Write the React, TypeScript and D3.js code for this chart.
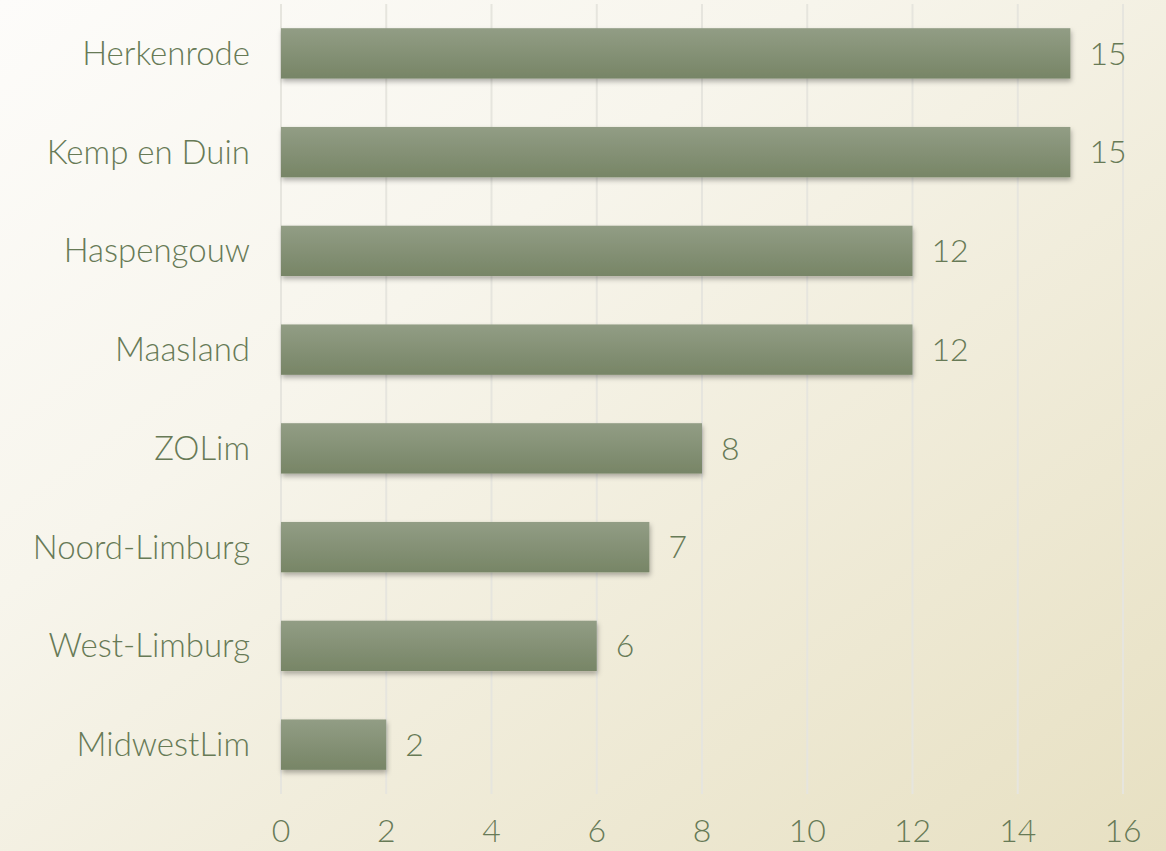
import React, { useEffect, useRef } from "react";
import * as d3 from "d3";

const categories = [
  "Herkenrode",
  "Kemp en Duin",
  "Haspengouw",
  "Maasland",
  "ZOLim",
  "Noord-Limburg",
  "West-Limburg",
  "MidwestLim",
];
const values = [15, 15, 12, 12, 8, 7, 6, 2];
const xTicks = [0, 2, 4, 6, 8, 10, 12, 14, 16];

const width = 1166;
const height = 851;

export default function App() {
  const chartRef = useRef<SVGSVGElement>(null);

  useEffect(() => {
    document.body.style.margin = "0";
    const svg = d3.select(chartRef.current);
    const textColor = "#677a56";
    const font = "Lato, 'Open Sans', sans-serif";

    const defs = svg.append("defs");
    const bg = defs
      .append("linearGradient")
      .attr("id", "bg")
      .attr("x1", "0%")
      .attr("y1", "0%")
      .attr("x2", "100%")
      .attr("y2", "100%");
    bg.append("stop").attr("offset", "0%").attr("stop-color", "#fdfcfa");
    bg.append("stop").attr("offset", "35%").attr("stop-color", "#f7f5ec");
    bg.append("stop").attr("offset", "100%").attr("stop-color", "#e7e0c2");

    const barGrad = defs
      .append("linearGradient")
      .attr("id", "bar")
      .attr("x1", "0")
      .attr("y1", "0")
      .attr("x2", "0")
      .attr("y2", "1");
    barGrad.append("stop").attr("offset", "0%").attr("stop-color", "#929d85");
    barGrad.append("stop").attr("offset", "100%").attr("stop-color", "#778566");

    defs
      .append("filter")
      .attr("id", "shadow")
      .attr("x", "-5%")
      .attr("y", "-20%")
      .attr("width", "110%")
      .attr("height", "150%")
      .append("feDropShadow")
      .attr("dx", 1)
      .attr("dy", 3)
      .attr("stdDeviation", 2.5)
      .attr("flood-color", "#000")
      .attr("flood-opacity", 0.3);

    svg
      .append("rect")
      .attr("width", width)
      .attr("height", height)
      .attr("fill", "url(#bg)");

    const x = d3.scaleLinear().domain([0, 16]).range([281, 1123]);
    const y = d3
      .scaleBand()
      .domain(categories)
      .range([4, 794])
      .paddingInner(0.49)
      .paddingOuter(0.245);

    // grid
    svg
      .append("g")
      .selectAll("line")
      .data(xTicks)
      .join("line")
      .attr("x1", d => x(d))
      .attr("x2", d => x(d))
      .attr("y1", 4)
      .attr("y2", 794)
      .attr("stroke", "#e6e5de")
      .attr("stroke-width", 2);

    // x tick labels
    svg
      .append("g")
      .selectAll("text")
      .data(xTicks)
      .join("text")
      .attr("x", d => x(d))
      .attr("y", 842)
      .attr("text-anchor", "middle")
      .attr("font-family", font)
      .attr("font-weight", 300)
      .attr("font-size", 32)
      .attr("fill", textColor)
      .text(d => d);

    const data = categories.map((c, i) => ({ c, v: values[i] }));

    svg
      .append("g")
      .selectAll("rect")
      .data(data)
      .join("rect")
      .attr("x", x(0))
      .attr("y", d => y(d.c)!)
      .attr("width", d => x(d.v) - x(0))
      .attr("height", y.bandwidth())
      .attr("fill", "url(#bar)")
      .attr("filter", "url(#shadow)");

    // category labels
    svg
      .append("g")
      .selectAll("text")
      .data(data)
      .join("text")
      .attr("x", 250)
      .attr("y", d => y(d.c)! + y.bandwidth() / 2)
      .attr("dy", "0.35em")
      .attr("text-anchor", "end")
      .attr("font-family", font)
      .attr("font-weight", 300)
      .attr("font-size", 33)
      .attr("fill", textColor)
      .text(d => d.c);

    // value labels
    svg
      .append("g")
      .selectAll("text")
      .data(data)
      .join("text")
      .attr("x", d => x(d.v) + 19)
      .attr("y", d => y(d.c)! + y.bandwidth() / 2)
      .attr("dy", "0.35em")
      .attr("font-family", font)
      .attr("font-weight", 300)
      .attr("font-size", 32)
      .attr("fill", textColor)
      .text(d => d.v);

    return () => {
      svg.html("");
    };
  }, []);

  return (
    <svg
      ref={chartRef}
      width={width}
      height={height}
      style={{ display: "block" }}
    />
  );
}
